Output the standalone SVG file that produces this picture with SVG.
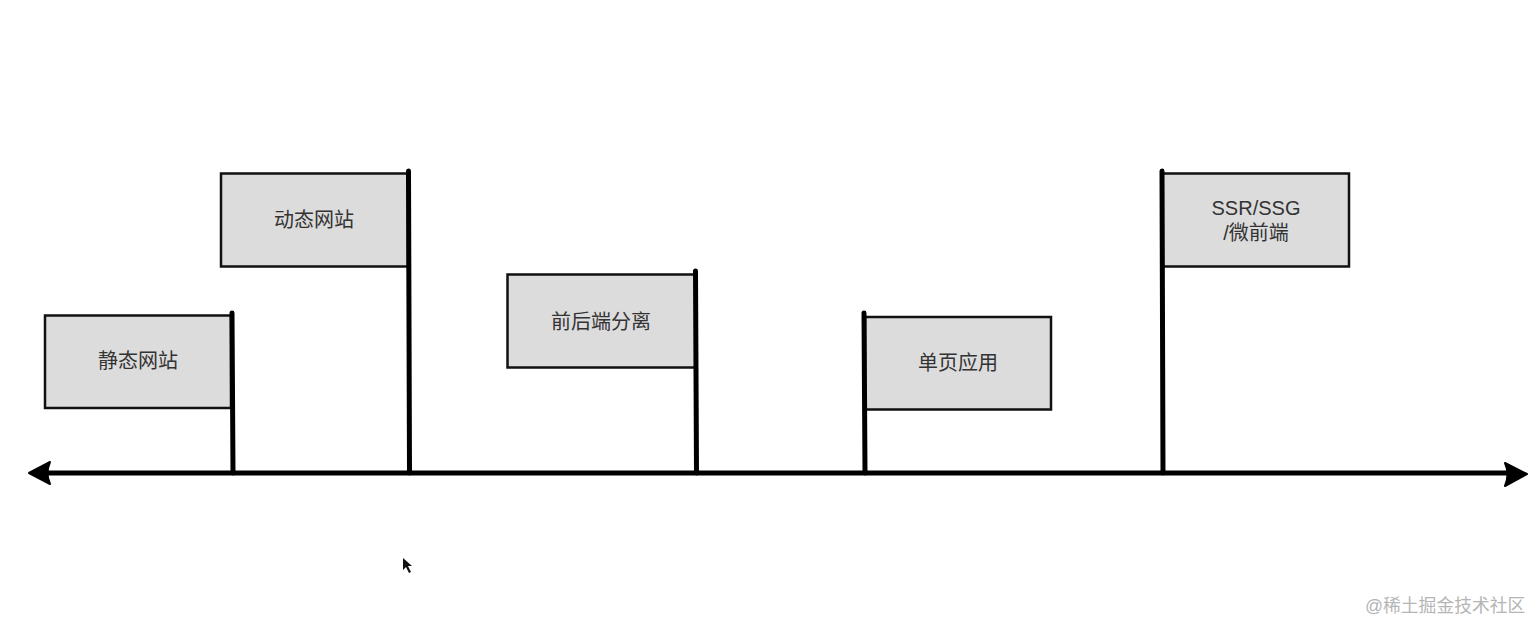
<svg xmlns="http://www.w3.org/2000/svg" width="1531" height="623" viewBox="0 0 1531 623">
<style>
.box{fill:#dcdcdc;stroke:#111;stroke-width:2.5}
.pole{stroke:#000;stroke-width:5;stroke-linecap:round}
.lbl{font-family:"Liberation Sans","Noto Sans CJK SC",sans-serif;font-size:20px;fill:#333;text-anchor:middle;dominant-baseline:central}
.wm{font-family:"Liberation Sans","Noto Sans CJK SC",sans-serif;font-size:17.8px;fill:#b5b5b5}
</style>
<rect width="1531" height="623" fill="#fff"/>
<g id="connectors">
<line x1="44" y1="473" x2="1512" y2="473" stroke="#000" stroke-width="5"/>
<path d="M29,473 L50,462 Q45,473 50,484 Z" fill="#000" stroke="#000" stroke-width="2" stroke-linejoin="round"/>
<path d="M1527,474 L1505,463 Q1510,474 1505,486 Z" fill="#000" stroke="#000" stroke-width="2" stroke-linejoin="round"/>
</g>
<g id="flag-static">
<rect class="box" x="45" y="315.5" width="186" height="92.5"/>
<line class="pole" x1="232" y1="313" x2="233" y2="473"/>
<text class="lbl" x="138" y="361">静态网站</text>
</g>
<g id="flag-dynamic">
<rect class="box" x="221" y="173.5" width="187" height="93"/>
<line class="pole" x1="408.5" y1="171" x2="409.5" y2="473"/>
<text class="lbl" x="314" y="220">动态网站</text>
</g>
<g id="flag-separation">
<rect class="box" x="507.5" y="274.5" width="188" height="93"/>
<line class="pole" x1="695.5" y1="271" x2="696.5" y2="473"/>
<text class="lbl" x="601" y="322">前后端分离</text>
</g>
<g id="flag-spa">
<rect class="box" x="865" y="317" width="186" height="92.5"/>
<line class="pole" x1="864" y1="313" x2="865" y2="473"/>
<text class="lbl" x="958" y="363">单页应用</text>
</g>
<g id="flag-ssr">
<rect class="box" x="1162" y="173.5" width="187" height="93"/>
<line class="pole" x1="1162" y1="171" x2="1163" y2="473"/>
<text class="lbl" x="1256" y="208">SSR/SSG</text>
<text class="lbl" x="1256" y="233">/微前端</text>
</g>
<polygon points="403,558 403,570 406,567 409,573 411,572 408,566 412,566" fill="#111"/>
<text class="wm" x="1365" y="612">@稀土掘金技术社区</text>
</svg>
